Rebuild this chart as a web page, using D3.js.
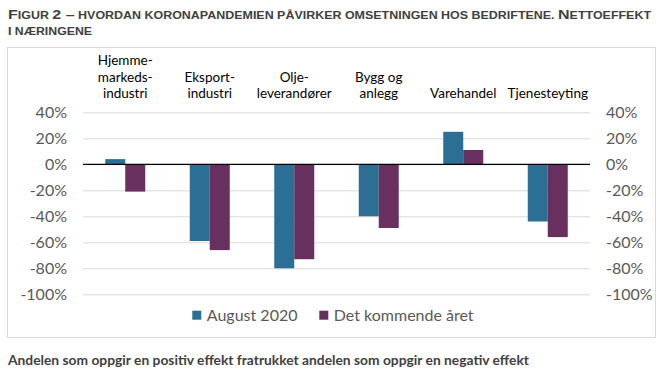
<!DOCTYPE html>
<html>
<head>
<meta charset="utf-8">
<script src="https://cdn.jsdelivr.net/npm/d3@7"></script>
<style>
  body { margin: 0; background: #fff; }
  .axis text { font-family: Lato, "Open Sans", sans-serif; font-size: 16px; fill: #595959; }
</style>
</head>
<body>
<div id="chart"></div>
<script>
var categories = ["Hjemmemarkedsindustri", "Eksportindustri", "Oljeleverandører", "Bygg og anlegg", "Varehandel", "Tjenesteyting"];
var categoryLines = [["Hjemme-", "markeds-", "industri"],
                     ["Eksport-", "industri"],
                     ["Olje-", "leverandører"],
                     ["Bygg og", "anlegg"],
                     ["Varehandel"],
                     ["Tjenesteyting"]];
var seriesNames = ["August 2020", "Det kommende året"];
var august2020 = [0.04, -0.59, -0.80, -0.40, 0.25, -0.44];
var kommendeAar = [-0.21, -0.66, -0.73, -0.49, 0.11, -0.56];
var tickValues = [0.4, 0.2, 0, -0.2, -0.4, -0.6, -0.8, -1.0];
var colors = ["#2c6f94", "#67305f"];

w = 668;
h = 375;

var plotLeft = 83, plotRight = 590, plotTop = 112.3, plotBottom = 294.3;

var svg = d3.select("#chart")
    .append("svg")
    .attr("width", w)
    .attr("height", h);

///////// TITLE /////////
var titleFont = "'Liberation Sans Narrow', 'Arial Narrow', 'Liberation Sans', sans-serif";

var title1 = svg.append("text")
    .attr("x", 8)
    .attr("y", 18.5)
    .attr("font-family", titleFont)
    .attr("font-weight", "bold")
    .attr("fill", "#404040")
    .attr("textLength", 643)
    .attr("lengthAdjust", "spacingAndGlyphs");

var parts1 = [["F", 13.5], ["IGUR ", 10.5], ["2 –", 13.5], [" HVORDAN KORONAPANDEMIEN PÅVIRKER OMSETNINGEN HOS BEDRIFTENE. ", 10.5], ["N", 13.5], ["ETTOEFFEKT", 10.5]];
parts1.forEach(function(p) {
    title1.append("tspan").attr("font-size", p[1] + "px").text(p[0]);
});

svg.append("text")
    .attr("x", 8)
    .attr("y", 34.5)
    .attr("font-family", titleFont)
    .attr("font-weight", "bold")
    .attr("font-size", "10.5px")
    .attr("fill", "#404040")
    .attr("textLength", 84)
    .attr("lengthAdjust", "spacingAndGlyphs")
    .text("I NÆRINGENE");

///////// FRAME /////////
svg.append("rect")
    .attr("x", 7.5)
    .attr("y", 47.5)
    .attr("width", 648)
    .attr("height", 290)
    .attr("fill", "none")
    .attr("stroke", "#d9d9d9");

///////// SCALES /////////
var x0 = d3.scaleBand()
    .domain(categories)
    .range([plotLeft, plotRight]);

var x1 = d3.scaleBand()
    .domain(seriesNames)
    .range([0, 40]);

var yscale = d3.scaleLinear()
    .domain([-1, 0.4])
    .range([plotBottom, plotTop]);

var fmt = function(d) { return Math.round(d * 100) + "%"; };

// grid
svg.append("g")
    .attr("transform", "translate(" + plotLeft + ",0)")
    .call(d3.axisLeft(yscale).tickValues(tickValues).tickSize(-(plotRight - plotLeft)).tickFormat(""))
    .call(function(g) { g.select(".domain").remove(); })
    .selectAll("line")
    .attr("stroke", "#d9d9d9");

// axis labels
svg.append("g")
    .attr("class", "axis")
    .attr("transform", "translate(" + plotLeft + ",0)")
    .call(d3.axisLeft(yscale).tickValues(tickValues).tickSize(0).tickPadding(16).tickFormat(fmt))
    .call(function(g) { g.select(".domain").remove(); });

svg.append("g")
    .attr("class", "axis")
    .attr("transform", "translate(" + plotRight + ",0)")
    .call(d3.axisRight(yscale).tickValues(tickValues).tickSize(0).tickPadding(16).tickFormat(fmt))
    .call(function(g) { g.select(".domain").remove(); });

///////// BARS /////////
var rows = categories.map(function(c, i) {
    return {cat: c, values: [august2020[i], kommendeAar[i]]};
});

var groups = svg.selectAll("g.cat")
    .data(rows)
    .enter()
    .append("g")
    .attr("class", "cat")
    .attr("transform", function(d) {
        return "translate(" + (x0(d.cat) + x0.bandwidth() / 2 - 20) + ",0)";
    });

groups.selectAll("rect")
    .data(function(d) {
        return d.values.map(function(v, j) { return {s: seriesNames[j], v: v, j: j}; });
    })
    .enter()
    .append("rect")
    .attr("x", function(d) { return x1(d.s); })
    .attr("width", x1.bandwidth())
    .attr("y", function(d) { return yscale(Math.max(0, d.v)); })
    .attr("height", function(d) { return Math.abs(yscale(d.v) - yscale(0)); })
    .attr("fill", function(d) { return colors[d.j]; });

// zero line
svg.append("line")
    .attr("x1", plotLeft)
    .attr("x2", plotRight)
    .attr("y1", yscale(0))
    .attr("y2", yscale(0))
    .attr("stroke", "#000")
    .attr("stroke-width", 1.3);

///////// CATEGORY LABELS /////////
svg.selectAll("text.catlabel")
    .data(categories)
    .enter()
    .append("text")
    .attr("class", "catlabel")
    .attr("text-anchor", "middle")
    .attr("font-family", "Lato, 'Open Sans', sans-serif")
    .attr("font-size", "13.5px")
    .attr("fill", "#000")
    .each(function(d, i) {
        var lines = categoryLines[i];
        var n = lines.length;
        var cx = x0(d) + x0.bandwidth() / 2;
        d3.select(this).selectAll("tspan")
            .data(lines)
            .enter()
            .append("tspan")
            .attr("x", cx)
            .attr("y", function(l, k) { return 98.3 - (n - 1 - k) * 16.5; })
            .text(function(l) { return l; });
    });

///////// LEGEND /////////
var legendX = [192.3, 319.3];
var legend = svg.selectAll("g.legend")
    .data(seriesNames)
    .enter()
    .append("g")
    .attr("class", "legend")
    .attr("transform", function(d, i) { return "translate(" + legendX[i] + ",310.7)"; });

legend.append("rect")
    .attr("width", 9)
    .attr("height", 9)
    .attr("fill", function(d, i) { return colors[i]; });

legend.append("text")
    .attr("x", 14.5)
    .attr("y", 10)
    .attr("font-family", "Lato, 'Open Sans', sans-serif")
    .attr("font-size", "16px")
    .attr("fill", "#595959")
    .text(function(d) { return d; });

///////// FOOTNOTE /////////
svg.append("text")
    .attr("x", 8)
    .attr("y", 365)
    .attr("font-family", "Lato, 'Open Sans', sans-serif")
    .attr("font-weight", "bold")
    .attr("font-size", "13px")
    .attr("fill", "#404040")
    .attr("textLength", 521)
    .attr("lengthAdjust", "spacingAndGlyphs")
    .text("Andelen som oppgir en positiv effekt fratrukket andelen som oppgir en negativ effekt");
</script>
</body>
</html>
